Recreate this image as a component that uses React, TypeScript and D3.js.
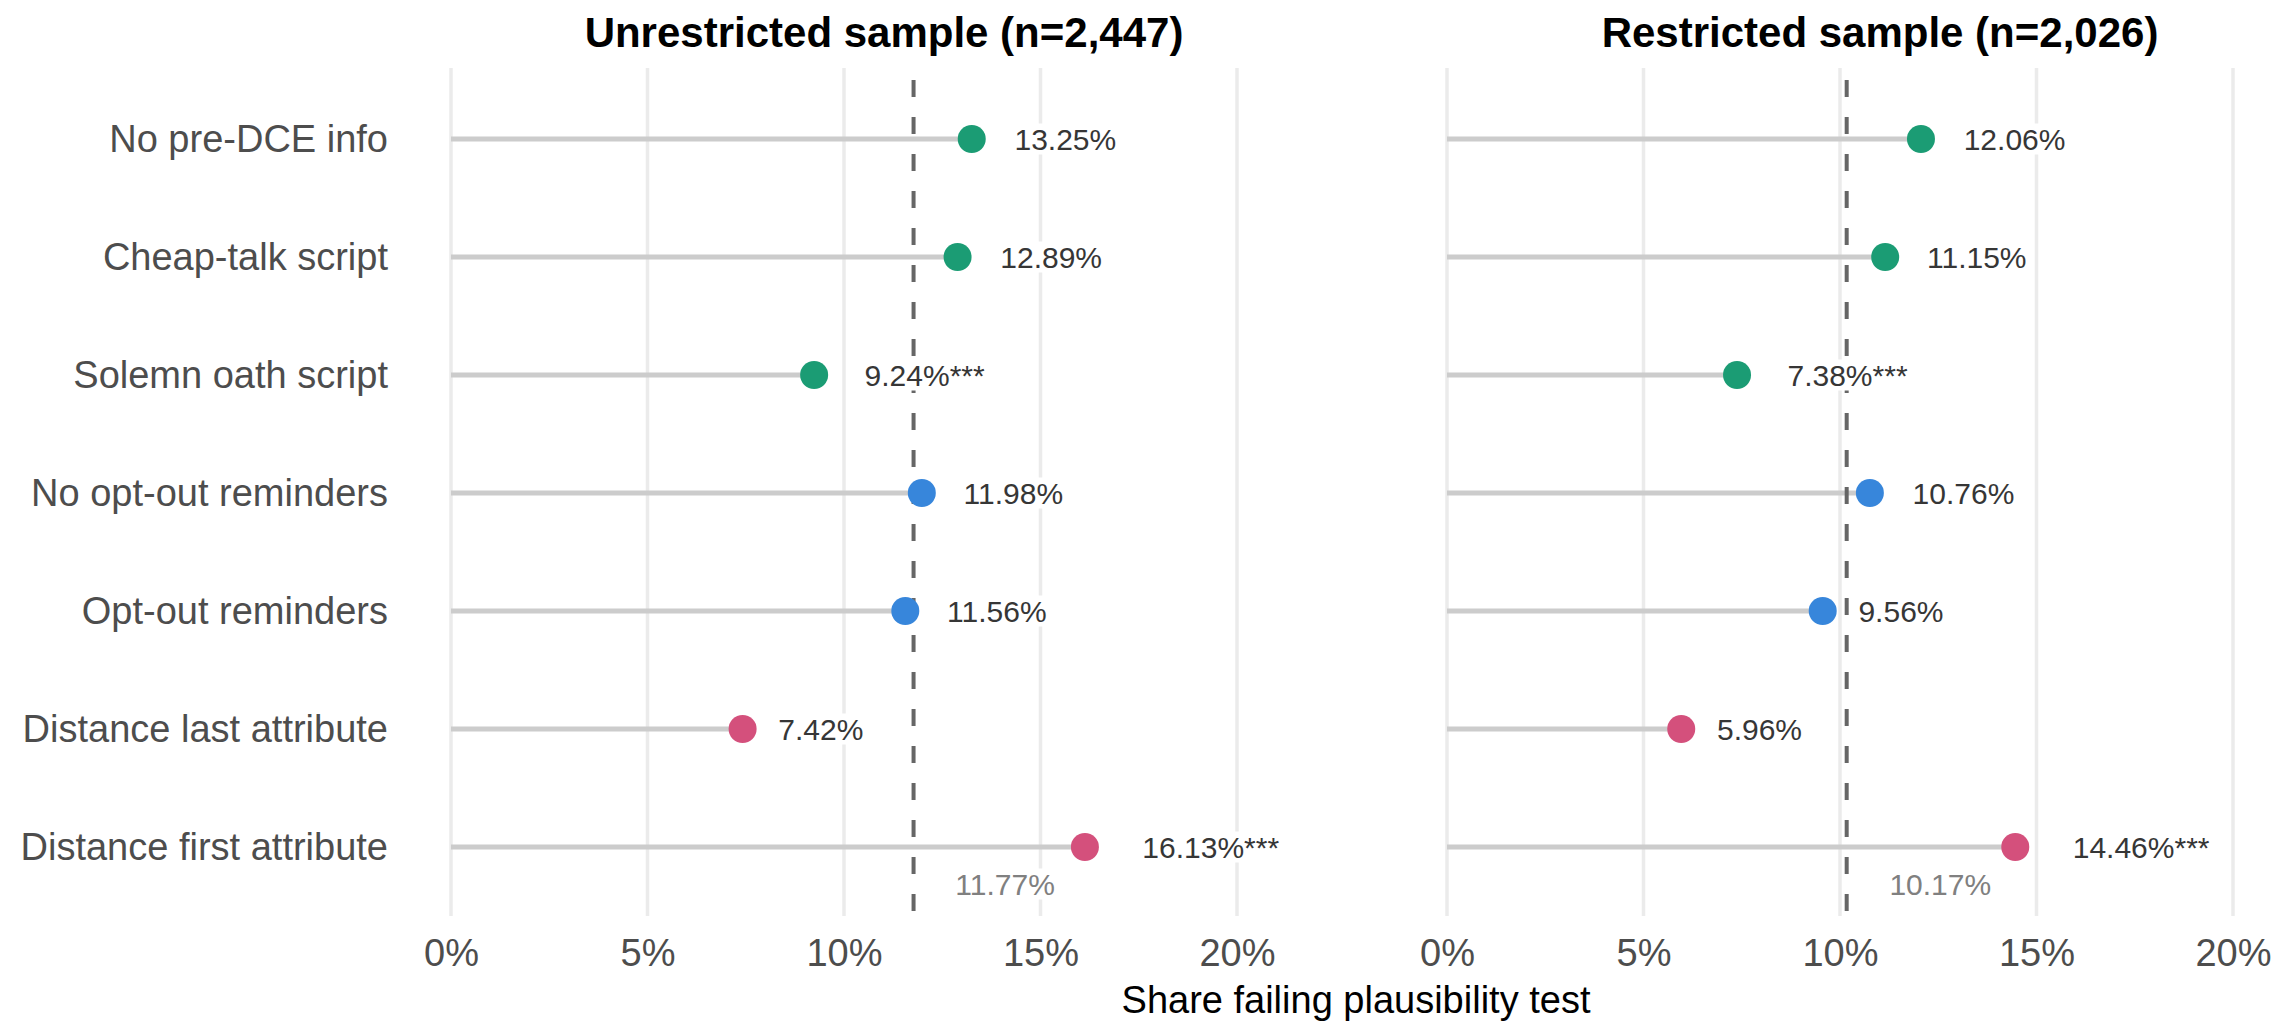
import React, { useRef, useEffect } from 'react';
import * as d3 from 'd3';

// Chart data
const categories = [
    'No pre-DCE info',
    'Cheap-talk script',
    'Solemn oath script',
    'No opt-out reminders',
    'Opt-out reminders',
    'Distance last attribute',
    'Distance first attribute',
];
const categoryGroups = ['info', 'info', 'info', 'optout', 'optout', 'distance', 'distance'];

const unrestrictedValues = [13.25, 12.89, 9.24, 11.98, 11.56, 7.42, 16.13];
const unrestrictedStars = ['', '', '***', '', '', '', '***'];
const restrictedValues = [12.06, 11.15, 7.38, 10.76, 9.56, 5.96, 14.46];
const restrictedStars = ['', '', '***', '', '', '', '***'];

const panelTitles = ['Unrestricted sample (n=2,447)', 'Restricted sample (n=2,026)'];
const panelAverages = [11.77, 10.17];
const xTicks = [0, 5, 10, 15, 20];
const xAxisTitle = 'Share failing plausibility test';

const WIDTH = 2295;
const HEIGHT = 1026;
const FONT = '"Liberation Sans", Arial, Helvetica, sans-serif';

function groupColor(group: string): string {
    switch (group) {
        case 'info': return '#1b9c74';
        case 'optout': return '#3786db';
        case 'distance': return '#d4507c';
        default: return '#888888';
    }
}

const App: React.FC = () => {
    const svgRef = useRef<SVGSVGElement>(null);

    useEffect(() => {
        document.body.style.margin = '0';
        if (!svgRef.current) return;

        const svg = d3.select(svgRef.current);
        svg.selectAll('*').remove();

        const gridTop = 68;
        const gridBottom = 916;

        const y = d3.scalePoint<string>()
            .domain(categories)
            .range([139, 847]);

        const panels = [
            { range: [451, 1237], values: unrestrictedValues, stars: unrestrictedStars },
            { range: [1447, 2233], values: restrictedValues, stars: restrictedStars },
        ];

        // text with a white box behind it, left edge pushed right like hjust = -0.42
        const boxedLabel = (
            g: d3.Selection<SVGGElement, unknown, null, undefined>,
            x: number, yPos: number, text: string, color: string
        ) => {
            const t = g.append('text')
                .attr('y', yPos)
                .attr('dy', '0.35em')
                .attr('font-family', FONT)
                .attr('font-size', 30)
                .attr('fill', color)
                .text(text);
            const node = t.node() as SVGTextElement;
            const w = node.getComputedTextLength();
            t.attr('x', x + 0.42 * w);
            const bb = node.getBBox();
            g.insert('rect', () => node)
                .attr('x', bb.x - 3)
                .attr('y', bb.y + 1)
                .attr('width', bb.width + 6)
                .attr('height', bb.height - 2)
                .attr('fill', '#ffffff');
        };

        panels.forEach((p, pi) => {
            const x = d3.scaleLinear().domain([0, 20]).range(p.range);
            const g = svg.append('g').attr('class', `panel-${pi}`);

            // vertical grid
            g.append('g')
                .selectAll('line')
                .data(xTicks)
                .join('line')
                .attr('x1', d => x(d))
                .attr('x2', d => x(d))
                .attr('y1', gridTop)
                .attr('y2', gridBottom)
                .attr('stroke', '#ebebeb')
                .attr('stroke-width', 3.5);

            // lollipop sticks
            g.append('g')
                .selectAll('line')
                .data(p.values)
                .join('line')
                .attr('x1', x(0))
                .attr('x2', d => x(d))
                .attr('y1', (_, i) => y(categories[i])!)
                .attr('y2', (_, i) => y(categories[i])!)
                .attr('stroke', '#cccccc')
                .attr('stroke-width', 5);

            // average reference
            const avg = panelAverages[pi];
            g.append('line')
                .attr('x1', x(avg))
                .attr('x2', x(avg))
                .attr('y1', gridTop)
                .attr('y2', gridBottom)
                .attr('stroke', '#666666')
                .attr('stroke-width', 4)
                .attr('stroke-dasharray', '17 20')
                .attr('stroke-dashoffset', 25);

            // dots
            g.append('g')
                .selectAll('circle')
                .data(p.values)
                .join('circle')
                .attr('cx', d => x(d))
                .attr('cy', (_, i) => y(categories[i])!)
                .attr('r', 14)
                .attr('fill', (_, i) => groupColor(categoryGroups[i]));

            // value labels
            const labels = g.append('g');
            p.values.forEach((v, i) => {
                boxedLabel(labels, x(v), y(categories[i])!, `${v.toFixed(2)}%${p.stars[i]}`, '#363636');
            });
            boxedLabel(labels, x(avg), y(categories[categories.length - 1])! + 37, `${avg.toFixed(2)}%`, '#808080');

            // x axis
            const axis = d3.axisBottom(x)
                .tickValues(xTicks)
                .tickFormat(d => `${d}%`)
                .tickSize(0)
                .tickPadding(0);
            const ax = g.append('g')
                .attr('transform', 'translate(0, 966)')
                .call(axis);
            ax.select('.domain').remove();
            ax.selectAll('text')
                .attr('dy', 0)
                .attr('y', 0)
                .attr('font-family', FONT)
                .attr('font-size', 38)
                .attr('fill', '#4d4d4d');

            // panel title
            g.append('text')
                .attr('x', x(10) + 40)
                .attr('y', 47)
                .attr('text-anchor', 'middle')
                .attr('font-family', FONT)
                .attr('font-size', 42)
                .attr('font-weight', 'bold')
                .attr('fill', '#000000')
                .text(panelTitles[pi]);
        });

        // category labels (left panel only)
        svg.append('g')
            .selectAll('text')
            .data(categories)
            .join('text')
            .attr('x', 388)
            .attr('y', d => y(d)!)
            .attr('dy', '0.35em')
            .attr('text-anchor', 'end')
            .attr('font-family', FONT)
            .attr('font-size', 38)
            .attr('fill', '#4d4d4d')
            .text(d => d);

        // shared axis title
        svg.append('text')
            .attr('x', 1356)
            .attr('y', 1013)
            .attr('text-anchor', 'middle')
            .attr('font-family', FONT)
            .attr('font-size', 38)
            .attr('fill', '#000000')
            .text(xAxisTitle);
    }, []);

    return (
        <svg
            ref={svgRef}
            width={WIDTH}
            height={HEIGHT}
            style={{ display: 'block', background: '#ffffff' }}
        />
    );
};

export default App;
